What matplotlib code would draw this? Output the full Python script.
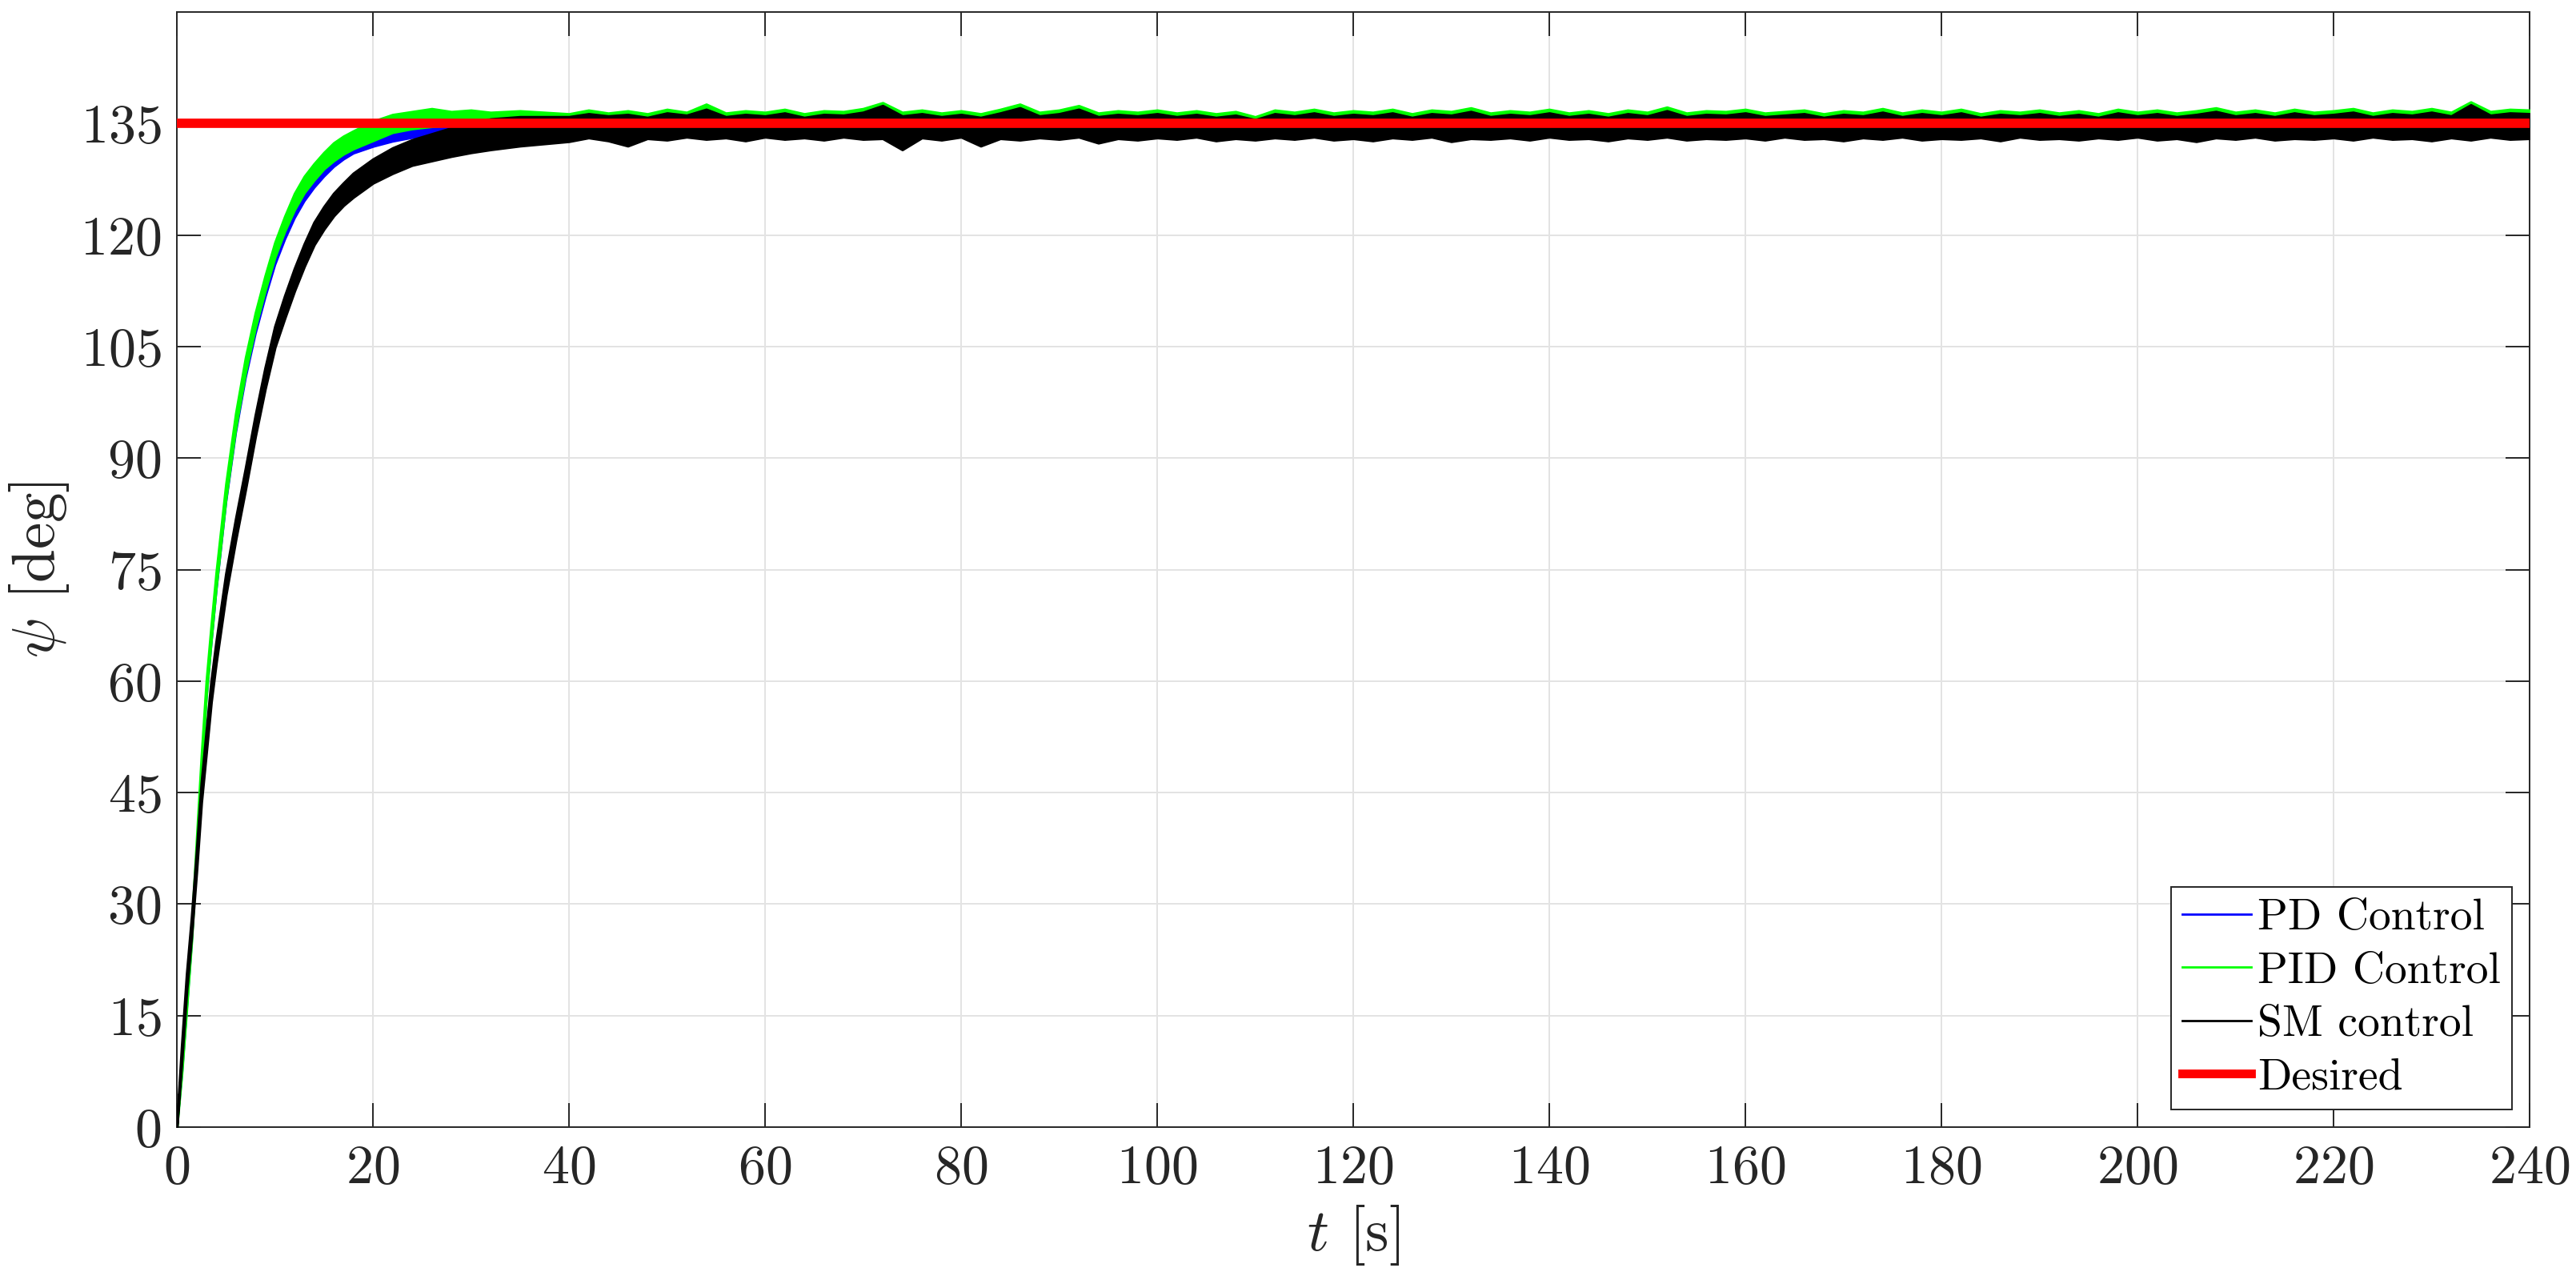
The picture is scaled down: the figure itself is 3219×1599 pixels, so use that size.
import matplotlib
matplotlib.use("Agg")
import matplotlib.pyplot as plt
from matplotlib.lines import Line2D
import numpy as np

# sample times [s]: the rise, then the flat noisy part
t_rise = [0, 0.5, 1, 1.5, 2, 2.5, 3, 3.5, 4, 5, 6, 7, 8, 9, 10, 11, 12, 13, 14, 15,
          16, 17, 18, 20, 22, 24, 26, 28, 30, 32, 35]
t_flat = [40, 42, 44, 46, 48, 50, 52, 54, 56, 58,
          60, 62, 64, 66, 68, 70, 72, 74, 76, 78,
          80, 82, 84, 86, 88, 90, 92, 94, 96, 98,
          100, 102, 104, 106, 108, 110, 112, 114, 116, 118,
          120, 122, 124, 126, 128, 130, 132, 134, 136, 138,
          140, 142, 144, 146, 148, 150, 152, 154, 156, 158,
          160, 162, 164, 166, 168, 170, 172, 174, 176, 178,
          180, 182, 184, 186, 188, 190, 192, 194, 196, 198,
          200, 202, 204, 206, 208, 210, 212, 214, 216, 218,
          220, 222, 224, 226, 228, 230, 232, 234, 236, 238,
          240]
t_pd_flat = [40, 240]

# PD control: upper / lower edge of the noisy trace [deg]
pd_hi = [0, 8, 17, 26, 37.5, 49, 59, 66.5, 73.5, 85.5, 95, 102.5, 108.5, 113.5, 118, 121.5,
         124.5, 126.8, 128.5, 130, 131.2, 132.1, 132.8, 134, 135, 135.4, 135.6, 135.7, 135.7,
         135.7, 135.7,
         135.6, 135.6]
pd_lo = [0, 7, 15.8, 24.8, 36.2, 47.6, 57.6, 65, 72, 84, 93.4, 100.8, 106.7, 111.6, 116, 119.4,
         122.3, 124.6, 126.4, 127.9, 129.2, 130.2, 131.0, 131.9, 132.6, 133.1, 133.5, 134.0,
         134.3, 134.4, 134.3,
         133.8, 133.8]

# PID control
pid_hi_rise = [0.3, 8.8, 18, 27, 38.5, 50, 60, 67.5, 74.5, 86.5, 96, 103.5, 109.5, 114.5, 119,
               122.5, 125.6, 127.9, 129.6, 131.1, 132.4, 133.3, 134, 135.3, 136.2, 136.6, 137.0,
               136.6, 136.8, 136.5, 136.7]
pid_lo_rise = [0, 7.2, 16, 25, 36.5, 48, 58, 65.5, 72.5, 84.5, 94, 101.5, 107.5, 112.5, 117,
               120.5, 123.4, 125.7, 127.4, 128.9, 130.0, 130.9, 131.6, 132.7, 133.8, 134.3,
               134.6, 134.8, 134.8, 134.8, 134.8]
pid_hi_flat = [136.3, 136.8, 136.4, 136.7, 136.3, 136.9, 136.5, 137.6, 136.4, 136.7,
               136.5, 136.9, 136.3, 136.7, 136.6, 137.0, 137.8, 136.5, 136.8, 136.4,
               136.7, 136.3, 136.9, 137.6, 136.5, 136.8, 137.4, 136.4, 136.7, 136.5,
               136.8, 136.4, 136.7, 136.3, 136.6, 135.9, 136.8, 136.5, 136.9, 136.4,
               136.7, 136.5, 136.9, 136.3, 136.8, 136.6, 137.1, 136.4, 136.7, 136.5,
               136.9, 136.4, 136.7, 136.3, 136.8, 136.5, 137.2, 136.4, 136.7, 136.6,
               136.9, 136.4, 136.6, 136.8, 136.3, 136.7, 136.5, 137.0, 136.4, 136.8,
               136.5, 136.9, 136.3, 136.7, 136.5, 136.8, 136.4, 136.7, 136.3, 136.9,
               136.5, 136.8, 136.4, 136.7, 137.1, 136.5, 136.8, 136.4, 136.9, 136.5,
               136.7, 137.0, 136.4, 136.8, 136.6, 137.0, 136.5, 137.9, 136.6, 136.9,
               136.8]
pid_lo_flat = [134.8, 134.7, 134.8, 134.9, 134.8, 134.7, 134.8, 134.8, 134.9, 134.8,
               134.7, 134.8, 134.8, 134.9, 134.8, 134.7, 134.8, 134.8, 134.9, 134.8,
               134.7, 134.8, 134.8, 134.9, 134.8, 134.7, 134.8, 134.8, 134.9, 134.8,
               134.7, 134.8, 134.8, 134.9, 134.8, 134.7, 134.8, 134.8, 134.9, 134.8,
               134.7, 134.8, 134.8, 134.9, 134.8, 134.7, 134.8, 134.8, 134.9, 134.8,
               134.7, 134.8, 134.8, 134.9, 134.8, 134.7, 134.8, 134.8, 134.9, 134.8,
               134.7, 134.8, 134.8, 134.9, 134.8, 134.7, 134.8, 134.8, 134.9, 134.8,
               134.7, 134.8, 134.8, 134.9, 134.8, 134.7, 134.8, 134.8, 134.9, 134.8,
               134.7, 134.8, 134.8, 134.9, 134.8, 134.7, 134.8, 134.8, 134.9, 134.8,
               134.7, 134.8, 134.8, 134.9, 134.8, 134.7, 134.8, 134.8, 134.9, 134.8,
               134.8]

# SM control
sm_hi_rise = [0.4, 11, 20.6, 28.2, 36.9, 46.3, 53.2, 60, 65.2, 74.4, 81.8, 88.6, 95.7, 102.1,
              107.7, 111.8, 115.5, 118.8, 121.7, 123.8, 125.6, 127.0, 128.3, 130.2, 131.7,
              132.8, 133.6, 134.4, 135.0, 135.6, 135.9]
sm_lo_rise = [0, 9, 18.4, 25.8, 34.3, 43.7, 50.4, 57.2, 62.4, 71.6, 79, 85.8, 92.9, 99.3,
              104.9, 108.8, 112.5, 115.8, 118.7, 120.8, 122.6, 124.0, 125.1, 127.0, 128.3,
              129.4, 130.0, 130.6, 131.1, 131.5, 132.0]
sm_hi_flat = [135.9, 136.3, 136.0, 136.2, 135.8, 136.4, 136.1, 136.9, 135.9, 136.2,
              136.0, 136.4, 135.8, 136.2, 136.1, 136.5, 137.4, 136.0, 136.3, 135.9,
              136.2, 135.8, 136.4, 137.1, 136.0, 136.3, 136.9, 135.9, 136.2, 136.0,
              136.3, 135.9, 136.2, 135.8, 136.1, 135.5, 136.3, 136.0, 136.4, 135.9,
              136.2, 136.0, 136.4, 135.8, 136.3, 136.1, 136.6, 135.9, 136.2, 136.0,
              136.4, 135.9, 136.2, 135.8, 136.3, 136.0, 136.7, 135.9, 136.2, 136.1,
              136.4, 135.9, 136.1, 136.3, 135.8, 136.2, 136.0, 136.5, 135.9, 136.3,
              136.0, 136.4, 135.8, 136.2, 136.0, 136.3, 135.9, 136.2, 135.8, 136.4,
              136.0, 136.3, 135.9, 136.2, 136.6, 136.0, 136.3, 135.9, 136.4, 136.0,
              136.2, 136.5, 135.9, 136.3, 136.1, 136.5, 136.0, 137.5, 136.1, 136.4,
              136.3]
sm_lo_flat = [132.6, 133.1, 132.7, 132.0, 133.0, 132.8, 133.2, 132.9, 133.1, 132.7,
              133.2, 132.9, 133.1, 132.8, 133.2, 132.9, 133.0, 131.5, 133.1, 132.8,
              133.2, 132.0, 133.0, 132.8, 133.1, 132.9, 133.2, 132.4, 133.0, 132.8,
              133.1, 132.9, 133.2, 132.7, 133.0, 132.8, 133.1, 132.9, 133.2, 132.8,
              133.0, 132.7, 133.1, 132.9, 133.2, 132.6, 133.0, 132.9, 133.1, 132.8,
              133.2, 132.9, 133.0, 132.7, 133.1, 132.9, 133.2, 132.8, 133.0, 132.9,
              133.1, 132.8, 133.2, 132.9, 133.0, 132.7, 133.1, 132.9, 133.2, 132.8,
              133.0, 132.9, 133.1, 132.7, 133.2, 132.9, 133.0, 132.8, 133.1, 132.9,
              133.2, 132.8, 133.0, 132.6, 133.1, 132.9, 133.2, 132.8, 133.0, 132.9,
              133.1, 132.8, 133.2, 132.9, 133.0, 132.7, 133.1, 132.8, 133.2, 132.9,
              133.0]

# reference
desired_t = [0, 240]
desired_psi = [135, 135]

labels = ["PD Control", "PID Control", "SM control", "Desired"]
x_ticks = [0, 20, 40, 60, 80, 100, 120, 140, 160, 180, 200, 220, 240]
y_ticks = [0, 15, 30, 45, 60, 75, 90, 105, 120, 135]


def main():
    plt.rcParams["font.family"] = "serif"
    plt.rcParams["font.serif"] = ["cmr10", "DejaVu Serif"]
    plt.rcParams["mathtext.fontset"] = "cm"
    plt.rcParams["axes.formatter.use_mathtext"] = True

    ax_col = "#262626"
    fig = plt.figure(figsize=(3219 / 200, 1599 / 200), dpi=200)
    ax = fig.add_axes([221 / 3219, 191 / 1599, 2940 / 3219, 1393 / 1599])

    t_all = np.array(t_rise + t_flat)
    t_pd = np.array(t_rise + t_pd_flat)
    ax.fill_between(t_pd, pd_lo, pd_hi, facecolor="#0000ff", edgecolor="#0000ff",
                    lw=0.8, zorder=3)
    ax.fill_between(t_all, pid_lo_rise + pid_lo_flat, pid_hi_rise + pid_hi_flat,
                    facecolor="#00ff00", edgecolor="#00ff00", lw=1.1, zorder=4)
    ax.fill_between(t_all, sm_lo_rise + sm_lo_flat, sm_hi_rise + sm_hi_flat,
                    facecolor="#000000", edgecolor="#000000", lw=1.2, zorder=5)
    ax.plot(desired_t, desired_psi, color="#ff0000", lw=4.2, solid_capstyle="butt", zorder=6)

    ax.set_xlim(0, 240)
    ax.set_ylim(0, 150)
    ax.set_xticks(x_ticks)
    ax.set_yticks(y_ticks)
    ax.grid(True, color="#e3e3e3", lw=0.7, zorder=0)
    ax.set_axisbelow(True)
    for s in ax.spines.values():
        s.set_color(ax_col)
        s.set_linewidth(0.7)
    ax.tick_params(direction="in", length=10.8, width=0.7, colors=ax_col,
                   labelsize=24.5, top=True, right=True)
    ax.tick_params(axis="x", pad=8)
    ax.tick_params(axis="y", pad=7)

    ax.set_xlabel(r"$t$ [s]", fontsize=27, color=ax_col, labelpad=4)
    ax.set_ylabel(r"$\psi$ [deg]", fontsize=27, color=ax_col, labelpad=4)

    handles = [
        Line2D([], [], color="#0000ff", lw=1.0),
        Line2D([], [], color="#00ff00", lw=1.0),
        Line2D([], [], color="#000000", lw=1.0),
        Line2D([], [], color="#ff0000", lw=3.9),
    ]
    leg = ax.legend(handles, labels, loc="lower right", fontsize=20, fancybox=False,
                    framealpha=1, edgecolor=ax_col, borderaxespad=0.4, borderpad=0.25,
                    handlelength=1.55, handletextpad=0.15, labelspacing=0.3)
    leg.get_frame().set_linewidth(0.7)
    leg.set_zorder(10)

    fig.savefig("out.png", dpi=200)


if __name__ == "__main__":
    main()
